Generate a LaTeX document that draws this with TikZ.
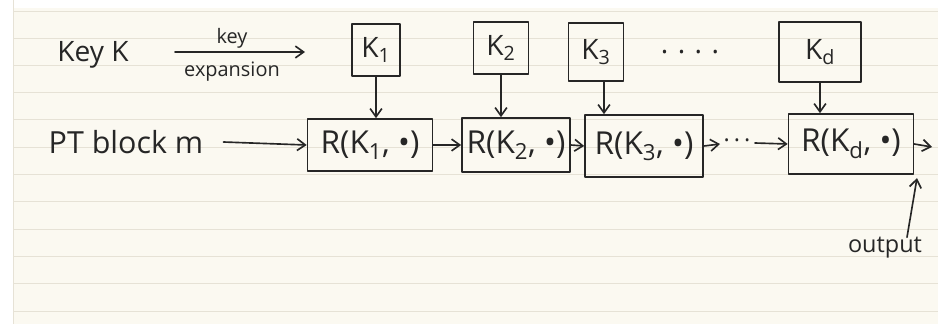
\documentclass[tikz,border=0pt]{standalone}
\usepackage{fontspec}
\setmainfont{Open Sans}
\usetikzlibrary{arrows.meta}
\definecolor{paper}{HTML}{FBF9F1}
\definecolor{rule}{HTML}{E6E2D6}
\definecolor{ink}{HTML}{262626}
\tikzset{
  px/.style={x=0.03cm,y=-0.03cm},
  hand/.style={draw=ink,line width=1.4pt,line join=round,line cap=round},
  roundbox/.style={hand,inner sep=0pt,font=\fontsize{27}{29}\selectfont,text=ink},
  keybox/.style={hand,inner sep=0pt,font=\fontsize{24}{26}\selectfont,text=ink},
  txt/.style={text=ink,inner sep=0pt},
  arr/.style={hand,-{Straight Barb[length=7pt,width=10pt,line width=1.4pt]}},
}
\begin{document}
\begin{tikzpicture}[px]
\useasboundingbox (0,0) rectangle (938,324);
% paper
\fill[white] (0,0) rectangle (938,324);
\fill[paper] (13,8) rectangle (938,324);
\foreach \y in {11,38,65,92,119,147,174,201,229,256,283,311}
  \draw[rule,line width=0.8pt] (13,\y) -- (938,\y);
\draw[rule,line width=0.8pt] (13,0) -- (13,324);

% texts
\node[txt,font=\fontsize{24}{26}\selectfont] (keyk) at (93,55) {Key K};
\node[txt,font=\fontsize{26}{28}\selectfont] (pt) at (126,142) {PT block m};

% key boxes
\node[keybox,minimum width=48*0.03cm,minimum height=52*0.03cm] (k1) at (376,50) {K\textsubscript{1}};
\node[keybox,minimum width=55*0.03cm,minimum height=52*0.03cm] (k2) at (501,48) {K\textsubscript{2}};
\node[keybox,minimum width=55*0.03cm,minimum height=58*0.03cm] (k3) at (596,52) {K\textsubscript{3}};
\node[keybox,minimum width=82*0.03cm,minimum height=60*0.03cm] (kd) at (820,52) {K\textsubscript{d}};
\node[txt,font=\fontsize{24}{26}\selectfont] (kdots) at (690,52) {.\,\,.\,\,.\,\,.};

% round boxes
\node[roundbox,minimum width=125*0.03cm,minimum height=52*0.03cm] (r1) at (370,145) {R(K\textsubscript{1}, \textbullet)};
\node[roundbox,minimum width=108*0.03cm,minimum height=54*0.03cm] (r2) at (516,145) {R(K\textsubscript{2}, \textbullet)};
\node[roundbox,minimum width=118*0.03cm,minimum height=62*0.03cm] (r3) at (644,146) {R(K\textsubscript{3}, \textbullet)};
\node[roundbox,minimum width=125*0.03cm,minimum height=60*0.03cm] (rd) at (851,144) {R(K\textsubscript{d}, \textbullet)};

% key expansion arrow
\coordinate (ke1) at (175,52);
\coordinate (ke2) at (305,52);
\draw[arr] (ke1) -- (ke2);
\node[txt,font=\fontsize{17}{19}\selectfont] (kelab1) at (232,38) {key};
\node[txt,font=\fontsize{17}{19}\selectfont] (kelab2) at (232,72) {expansion};

% key arrows down
\draw[arr] (k1.south) -- (k1.south |- r1.north);
\draw[arr] (k2.south) -- (k2.south |- r2.north);
\draw[arr] ([xshift=8*0.03cm]k3.south) -- ([xshift=8*0.03cm]k3.south |- r3.north);
\draw[arr] (kd.south) -- (kd.south |- rd.north);

% chain
\draw[arr] ([xshift=20*0.03cm]pt.east) -- (r1.west);
\draw[arr] (r1.east) -- (r2.west);
\draw[arr] (r2.east) -- (r3.west);
\coordinate (d1) at (720,144);
\draw[arr] (r3.east) -- (d1);
\node[txt,font=\fontsize{20}{22}\selectfont] (cdots) at (737,140) {.\,.\,.};
\coordinate (d2) at (755,143);
\draw[arr] (d2) -- (rd.west);
\coordinate (out) at (932,147);
\draw[arr] (rd.east) -- (out);

% output
\node[txt,font=\fontsize{20}{22}\selectfont] (output) at (885,248) {output};
\coordinate (outtip) at (917,178);
\draw[arr] ([xshift=22*0.03cm]output.north) -- (outtip);
\end{tikzpicture}
\end{document}
